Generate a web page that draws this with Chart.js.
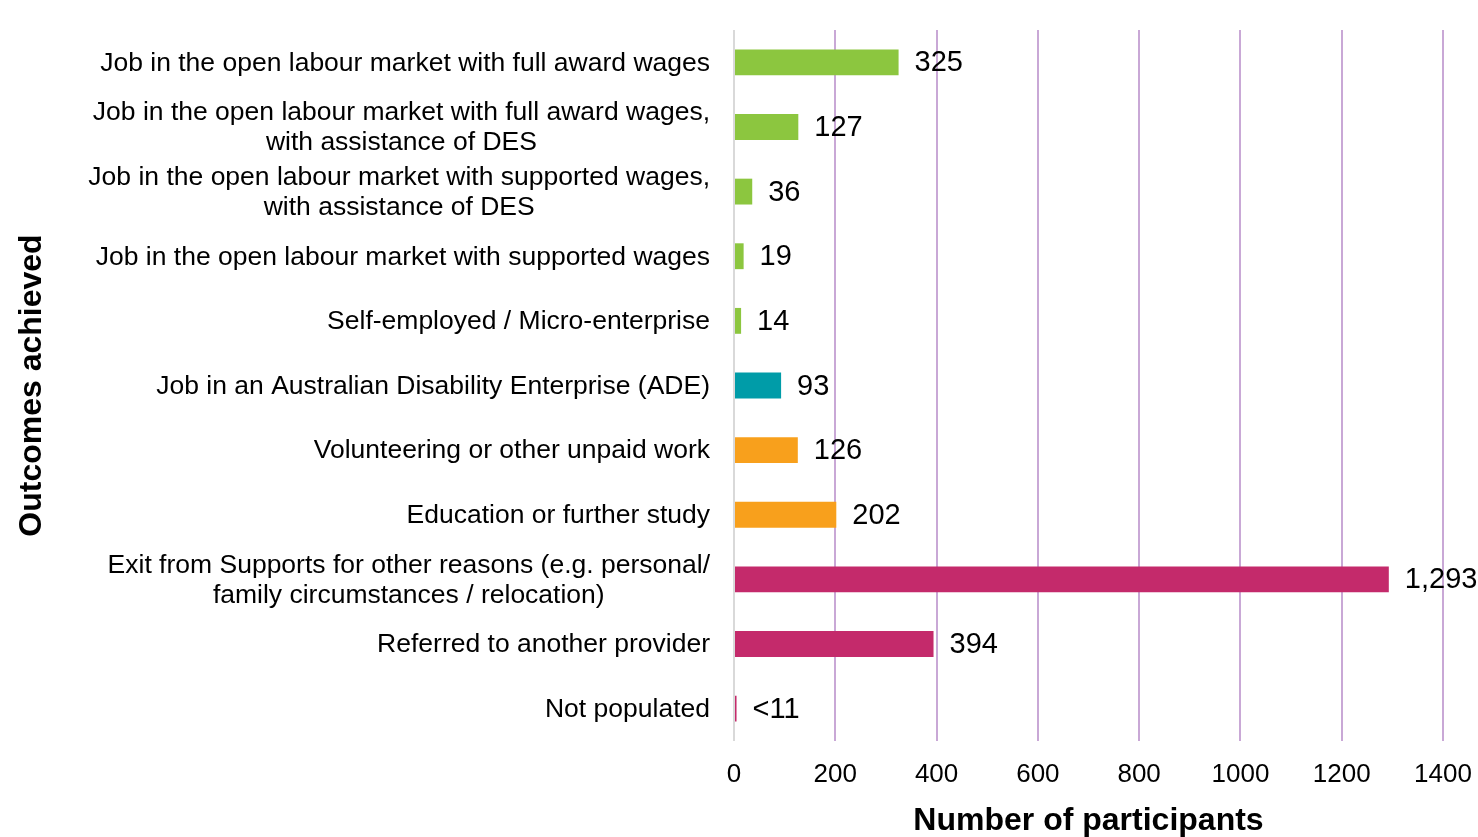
<!DOCTYPE html>
<html>
<head>
<meta charset="utf-8">
<script src="https://cdn.jsdelivr.net/npm/chart.js@4.4.1/dist/chart.umd.min.js"></script>
<style>
  html, body { margin: 0; padding: 0; background: #fff; }
  #wrap { width: 1478px; height: 837px; position: relative; }
</style>
</head>
<body>
<div id="wrap"><canvas id="outcomeChart"></canvas></div>
<script>
const categories = [
    ['Job in the open labour market with full award wages'],
    ['Job in the open labour market with full award wages,', 'with assistance of DES'],
    ['Job in the open labour market with supported wages,', 'with assistance of DES'],
    ['Job in the open labour market with supported wages'],
    ['Self-employed / Micro-enterprise'],
    ['Job in an Australian Disability Enterprise (ADE)'],
    ['Volunteering or other unpaid work'],
    ['Education or further study'],
    ['Exit from Supports for other reasons (e.g. personal/', 'family circumstances / relocation)'],
    ['Referred to another provider'],
    ['Not populated']
];
const participants = [325, 127, 36, 19, 14, 93, 126, 202, 1293, 394, 5];
const valueLabels = ['325', '127', '36', '19', '14', '93', '126', '202', '1,293', '394', '<11'];
const barColours = ['#8cc63f', '#8cc63f', '#8cc63f', '#8cc63f', '#8cc63f', '#009ca8', '#f8a01c', '#f8a01c', '#c42a6b', '#c42a6b', '#c42a6b'];
const xTicks = [0, 200, 400, 600, 800, 1000, 1200, 1400];

const FONT = "'Liberation Sans', Arial, sans-serif";

// y labels: block right aligned, lines centered inside block
const yLabelPlugin = {
    id: 'yLabels',
    afterDraw(chart) {
        const c = chart.ctx, y = chart.scales.y, right = chart.chartArea.left - 24;
        c.save();
        c.font = '26.5px ' + FONT;
        c.fillStyle = '#000';
        c.textAlign = 'center';
        c.textBaseline = 'middle';
        categories.forEach((lines, i) => {
            const w = Math.max(...lines.map(l => c.measureText(l).width));
            const cy = y.getPixelForValue(i);
            lines.forEach((l, j) => {
                c.fillText(l, right - w / 2, cy + 1 + (j - (lines.length - 1) / 2) * 30);
            });
        });
        c.restore();
    }
};

const valuePlugin = {
    id: 'values',
    afterDatasetsDraw(chart) {
        const c = chart.ctx, meta = chart.getDatasetMeta(0);
        c.save();
        c.font = '29px ' + FONT;
        c.fillStyle = '#000';
        c.textAlign = 'left';
        c.textBaseline = 'middle';
        meta.data.forEach((bar, i) => {
            c.fillText(valueLabels[i], bar.x + 16, bar.y + 1);
        });
        c.restore();
    }
};

new Chart(document.getElementById('outcomeChart'), {
    type: 'bar',
    data: {
        labels: categories.map(l => l.join(' ')),
        datasets: [{ data: participants, backgroundColor: barColours, barPercentage: 0.8, categoryPercentage: 0.5 }]
    },
    options: {
        indexAxis: 'y',
        responsive: true,
        maintainAspectRatio: false,
        animation: false,
        layout: { padding: { top: 30, right: 35, left: 0, bottom: 0 } },
        plugins: { legend: { display: false }, tooltip: { enabled: false } },
        scales: {
            x: {
                min: 0, max: 1400,
                afterBuildTicks: s => { s.ticks = xTicks.map(v => ({ value: v })); },
                afterFit: s => { s.height = 96; s.paddingLeft = 0; s.paddingRight = 0; },
                ticks: { color: '#000', font: { family: FONT, size: 26 }, padding: 18, callback: v => String(v) },
                grid: { color: ctx => ctx.tick && ctx.tick.value === 0 ? '#d9d9d9' : '#c9a8d6', lineWidth: 2, drawTicks: false },
                border: { display: false },
                title: { display: true, text: 'Number of participants', color: '#000', font: { family: FONT, size: 32, weight: 'bold' }, padding: { top: 0, bottom: -3 } }
            },
            y: {
                afterFit: s => { s.width = 734; },
                ticks: { color: 'rgba(0,0,0,0)', font: { family: FONT, size: 24 } },
                grid: { display: false },
                border: { display: false },
                title: { display: true, text: 'Outcomes achieved', color: '#000', font: { family: FONT, size: 32, weight: 'bold' }, padding: { top: 13, bottom: 0 } }
            }
        }
    },
    plugins: [yLabelPlugin, valuePlugin]
});
</script>
</body>
</html>
